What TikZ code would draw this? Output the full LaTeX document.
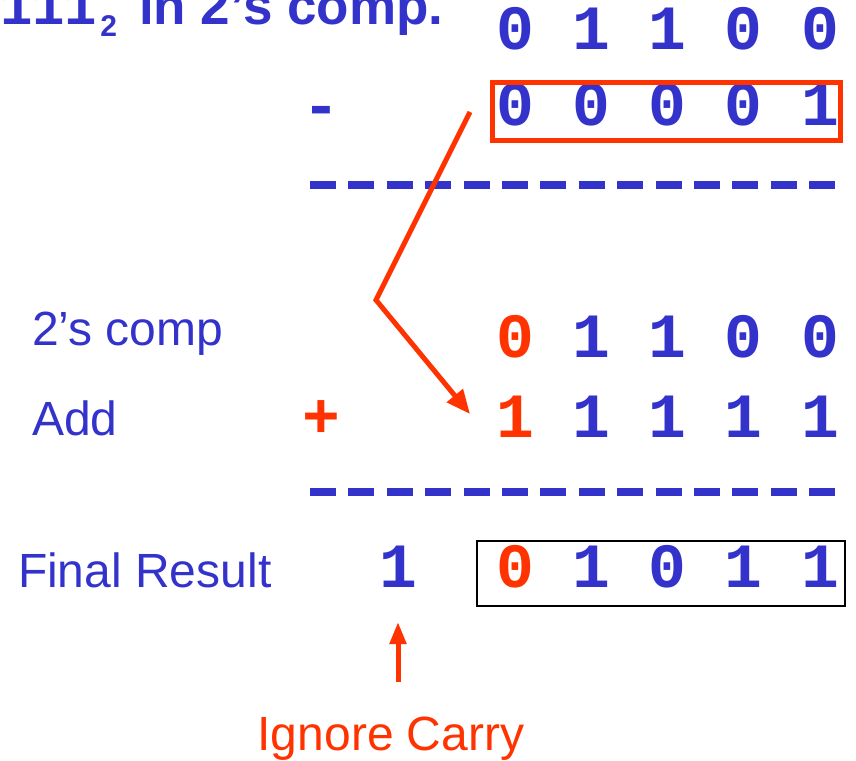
\documentclass[tikz,border=0pt]{standalone}
\usepackage{fontspec}
\setmainfont{Liberation Sans}
\newfontfamily\digitfont{Liberation Mono}
\usetikzlibrary{arrows.meta}
\definecolor{numblue}{RGB}{51,51,204}
\definecolor{markred}{RGB}{255,51,0}
\tikzset{
  bit/.style={anchor=base, inner sep=0pt, outer sep=0pt,
    font=\digitfont\bfseries\fontsize{63}{63}\selectfont, text=numblue},
  redbit/.style={bit, text=markred},
  label/.style={anchor=base west, inner sep=0pt, outer sep=0pt,
    font=\fontsize{48}{48}\selectfont, text=numblue},
  rule/.style={numblue, line width=8pt, dash pattern=on 26pt off 12.4pt},
  pointer/.style={markred, line width=5pt, line join=miter,
    -{Triangle[length=24pt,width=20pt]}},
}
\begin{document}
\begin{tikzpicture}[x=1pt, y=-1pt]
\useasboundingbox (0,0) rectangle (856,760);

% heading, clipped at the top edge
\node[anchor=base west, inner sep=0pt, text=numblue] (title) at (0,25)
  {{\digitfont\bfseries\fontsize{54}{54}\selectfont 111}\hspace{3pt}\raisebox{-12pt}{\bfseries\fontsize{30}{30}\selectfont 2}\hspace{22pt}{\bfseries\fontsize{53}{53}\selectfont in 2’s comp.}};

% minuend
\node[bit] (a1) at (515,50) {0};
\node[bit] (a2) at (591,50) {1};
\node[bit] (a3) at (667,50) {1};
\node[bit] (a4) at (743,50) {0};
\node[bit] (a5) at (820,50) {0};

% subtrahend
\node[bit] (minus) at (321,126) {-};
\node[bit] (b1) at (515,125) {0};
\node[bit] (b2) at (591,125) {0};
\node[bit] (b3) at (667,125) {0};
\node[bit] (b4) at (743,125) {0};
\node[bit] (b5) at (820,125) {1};
\draw[markred, line width=5pt] (492.5,82.5) rectangle (840.5,140.5);

\coordinate (r1a) at (310,185);
\coordinate (r1b) at (836,185);
\draw[rule] (r1a) -- (r1b);

% two's complement addition
\node[label] (lcomp) at (32,345) {2’s comp};
\node[redbit] (c1) at (515,357) {0};
\node[bit] (c2) at (591,357) {1};
\node[bit] (c3) at (667,357) {1};
\node[bit] (c4) at (743,357) {0};
\node[bit] (c5) at (820,357) {0};

\node[label] (ladd) at (32,435) {Add};
\node[redbit] (plus) at (321,437) {+};
\node[redbit] (d1) at (515,437) {1};
\node[bit] (d2) at (591,437) {1};
\node[bit] (d3) at (667,437) {1};
\node[bit] (d4) at (743,437) {1};
\node[bit] (d5) at (820,437) {1};

\coordinate (r2a) at (310,492);
\coordinate (r2b) at (836,492);
\draw[rule] (r2a) -- (r2b);

% sum with the carry out
\node[label] (lres) at (18,587) {Final Result};
\node[bit] (carry) at (398,587) {1};
\node[redbit] (e1) at (515,587) {0};
\node[bit] (e2) at (591,587) {1};
\node[bit] (e3) at (667,587) {0};
\node[bit] (e4) at (743,587) {1};
\node[bit] (e5) at (820,587) {1};
\draw[black, line width=2pt] (477,541) rectangle (845,606);

% pointer from the subtrahend to its complement
\coordinate (pstart) at (470,112);
\coordinate (pbend) at (376,300);
\coordinate (pend) at (470,414);
\draw[pointer] (pstart) -- (pbend) -- (pend);

% carry note
\node[label, anchor=base, text=markred] (ignore) at (391,750) {Ignore Carry};
\coordinate (cfoot) at (398,682);
\coordinate (ctip) at (398,622);
\draw[markred, line width=5pt, -{Triangle[length=22pt,width=16pt]}] (cfoot) -- (ctip);
\end{tikzpicture}
\end{document}
